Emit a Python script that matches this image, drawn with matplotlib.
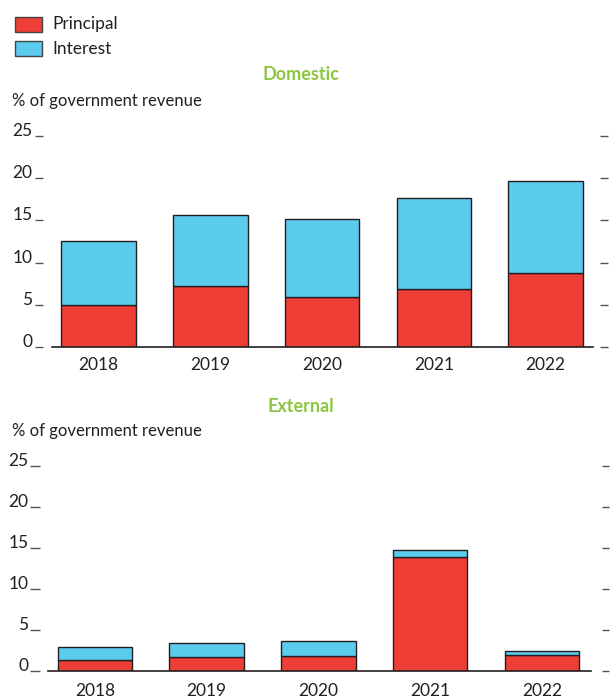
import matplotlib
matplotlib.use("Agg")
import matplotlib.pyplot as plt
from matplotlib.patches import Rectangle
from matplotlib.transforms import blended_transform_factory

years = ["2018", "2019", "2020", "2021", "2022"]
dom_principal = [5.0, 7.2, 5.9, 6.9, 8.7]
dom_interest = [7.6, 8.5, 9.3, 10.8, 11.0]
ext_principal = [1.3, 1.7, 1.8, 13.9, 1.9]
ext_interest = [1.6, 1.7, 1.8, 0.8, 0.6]
yticks = [0, 5, 10, 15, 20, 25]
series_names = ["Principal", "Interest"]
panel_titles = ["Domestic", "External"]
ylabel_text = "% of government revenue"

RED = "#ef3e36"
BLUE = "#5bcbee"
GREEN = "#8cc63f"
TXT = "#231f20"
EDGE = "#231f20"
TICKC = "#555555"

plt.rcParams['font.family'] = ['Lato', 'DejaVu Sans']
W, H = 610, 698
fig = plt.figure(figsize=(W / 100, H / 100), dpi=100)


def rect(l, r, t, b):
    return [l / W, 1 - b / H, (r - l) / W, (b - t) / H]


def fx(px):
    return px / W


def fy(py):
    return 1 - py / H


def panel(l, r, t, b, principal, interest, c0, ldash, rdash, lab_r, xpad):
    ax = fig.add_axes(rect(l, r, t, b))
    x = list(range(len(years)))
    spacing = 111.7
    ax.set_xlim((l - c0) / spacing, (r - c0) / spacing)
    ax.set_ylim(0, 25)
    ax.bar(x, principal, width=0.667, color=RED, edgecolor=EDGE, linewidth=1.0, zorder=2)
    ax.bar(x, interest, bottom=principal, width=0.667, color=BLUE, edgecolor=EDGE,
           linewidth=1.0, zorder=2)
    for s in ["left", "right", "top"]:
        ax.spines[s].set_visible(False)
    ax.spines["bottom"].set_color(EDGE)
    ax.spines["bottom"].set_linewidth(1.2)
    ax.spines["bottom"].set_zorder(3)
    ax.set_yticks([])
    ax.set_xticks(x)
    ax.set_xticklabels(years, fontsize=12.5, color=TXT)
    ax.tick_params(axis="x", length=0, pad=xpad)
    tr = blended_transform_factory(ax.transAxes, ax.transData)
    wpx = r - l
    for v in yticks:
        ax.plot([(ldash[0] - l) / wpx, (ldash[1] - l) / wpx], [v, v], color=TICKC, lw=1.0,
                transform=tr, clip_on=False, solid_capstyle="butt")
        ax.plot([(rdash[0] - l) / wpx, (rdash[1] - l) / wpx], [v, v], color=TICKC, lw=1.0,
                transform=tr, clip_on=False, solid_capstyle="butt")
        ax.text((lab_r - l) / wpx, v, str(v), transform=tr, ha="right", va="baseline",
                fontsize=12.5, color=TXT)
    return ax


panel(51.7, 593.3, 136.3, 346.7, dom_principal, dom_interest, 98.7,
      (35, 43), (600, 608), 32.5, 7.5)
panel(48.3, 591.0, 466.0, 671.0, ext_principal, ext_interest, 95.0,
      (30, 40), (601.5, 609), 28.5, 8.5)

# titles and axis labels
fig.text(fx(300.5), fy(75), panel_titles[0], ha="center", va="center", fontsize=13,
         fontweight="bold", color=GREEN)
fig.text(fx(300.5), fy(407), panel_titles[1], ha="center", va="center", fontsize=13,
         fontweight="bold", color=GREEN)
fig.text(fx(12), fy(101), ylabel_text, ha="left", va="center", fontsize=12, color=TXT)
fig.text(fx(12), fy(431), ylabel_text, ha="left", va="center", fontsize=12, color=TXT)

# legend
for i, (name, col) in enumerate(zip(series_names, [RED, BLUE])):
    top = 17 + i * 24.5
    fig.patches.append(Rectangle((fx(14.5), fy(top + 14.5)), 27 / W, 14.5 / H,
                                 transform=fig.transFigure, facecolor=col,
                                 edgecolor="#444444", linewidth=1.0))
    fig.text(fx(52), fy(top + 7.5), name, ha="left", va="center", fontsize=12.5, color=TXT)

fig.savefig("out.png", dpi=100)
